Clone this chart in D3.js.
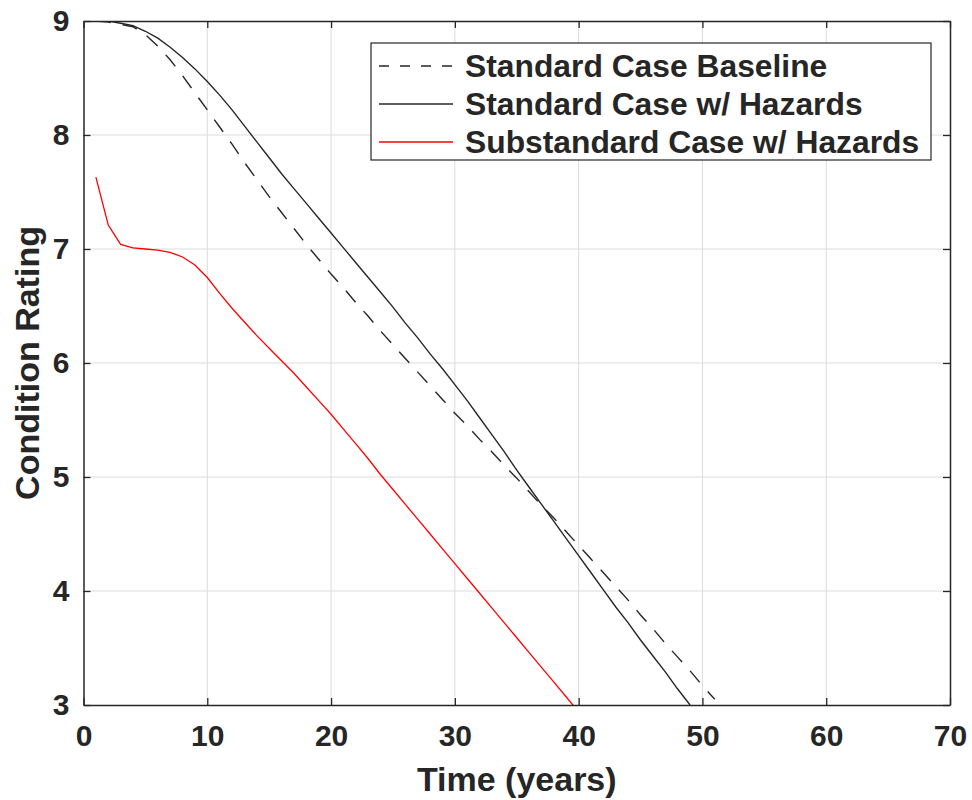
<!DOCTYPE html>
<html>
<head>
<meta charset="utf-8">
<script src="https://cdn.jsdelivr.net/npm/d3@7"></script>
<style>
  html, body { margin: 0; padding: 0; background: #fff; }
  svg { display: block; }
  text { font-family: "Liberation Sans", Arial, Helvetica, sans-serif; font-weight: bold; fill: #262626; }
</style>
</head>
<body>
<svg id="chart" width="972" height="800"></svg>
<script>
// Time axis (years) and condition-rating series
const yearsBaseline = d3.range(1, 52);
const standardBaseline = [
  9.00, 8.99, 8.97, 8.95, 8.88, 8.78, 8.66, 8.52, 8.37, 8.22,
  8.07, 7.92, 7.76, 7.61, 7.46, 7.32, 7.18, 7.04, 6.91, 6.78,
  6.66, 6.53, 6.41, 6.28, 6.16, 6.04, 5.92, 5.80, 5.68, 5.56,
  5.45, 5.33, 5.22, 5.10, 4.99, 4.87, 4.75, 4.64, 4.52, 4.40,
  4.28, 4.16, 4.04, 3.92, 3.79, 3.67, 3.54, 3.42, 3.30, 3.17, 3.05
];

const yearsHazards = d3.range(1, 50);
const standardHazards = [
  9.00, 9.00, 8.98, 8.96, 8.91, 8.85, 8.77, 8.68, 8.58, 8.47,
  8.35, 8.22, 8.08, 7.94, 7.80, 7.66, 7.53, 7.40, 7.27, 7.14,
  7.01, 6.88, 6.75, 6.62, 6.49, 6.35, 6.22, 6.08, 5.95, 5.81,
  5.67, 5.52, 5.37, 5.22, 5.06, 4.91, 4.76, 4.61, 4.46, 4.31,
  4.16, 4.01, 3.86, 3.72, 3.57, 3.43, 3.29, 3.14, 3.00
];

const yearsSubstandard = d3.range(1, 41);
const substandardHazards = [
  7.63, 7.21, 7.04, 7.01, 7.00, 6.99, 6.97, 6.93, 6.86, 6.75,
  6.61, 6.48, 6.36, 6.24, 6.13, 6.02, 5.91, 5.79, 5.67, 5.55,
  5.42, 5.29, 5.16, 5.02, 4.89, 4.76, 4.63, 4.50, 4.37, 4.24,
  4.11, 3.98, 3.85, 3.72, 3.59, 3.46, 3.33, 3.20, 3.07, 2.94
];

const xTicks = [0, 10, 20, 30, 40, 50, 60, 70];
const yTicks = [3, 4, 5, 6, 7, 8, 9];
const legendLabels = ["Standard Case Baseline", "Standard Case w/ Hazards", "Substandard Case w/ Hazards"];

const svg = d3.select("#chart");
const plot = { left: 83.5, right: 950, top: 21, bottom: 705 };

const x = d3.scaleLinear().domain([0, 70]).range([plot.left, plot.right]);
const y = d3.scaleLinear().domain([3, 9]).range([plot.bottom, plot.top]);

// grid
const grid = svg.append("g").attr("stroke", "#dcdcdc").attr("stroke-width", 1);
grid.selectAll("line.gx").data(xTicks.slice(1, -1)).join("line")
  .attr("x1", d => x(d)).attr("x2", d => x(d))
  .attr("y1", plot.top).attr("y2", plot.bottom);
grid.selectAll("line.gy").data(yTicks.slice(1, -1)).join("line")
  .attr("y1", d => y(d)).attr("y2", d => y(d))
  .attr("x1", plot.left).attr("x2", plot.right);

// clip region for the data lines
svg.append("clipPath").attr("id", "plotClip").append("rect")
  .attr("x", plot.left).attr("y", plot.top)
  .attr("width", plot.right - plot.left).attr("height", plot.bottom - plot.top);

const line = d3.line().x(d => x(d[0])).y(d => y(d[1])).curve(d3.curveLinear);
const series = [
  { xs: yearsBaseline, ys: standardBaseline, color: "#262626", dash: "15,12", width: 1.4 },
  { xs: yearsHazards, ys: standardHazards, color: "#262626", dash: null, width: 1.4 },
  { xs: yearsSubstandard, ys: substandardHazards, color: "#ff0000", dash: null, width: 1.3 }
];
const lines = svg.append("g").attr("clip-path", "url(#plotClip)");
series.forEach(s => {
  lines.append("path")
    .attr("d", line(s.xs.map((t, i) => [t, s.ys[i]])))
    .attr("fill", "none")
    .attr("stroke", s.color)
    .attr("stroke-width", s.width)
    .attr("stroke-dasharray", s.dash);
});

// axes (box with inward ticks)
const tickLen = 7;
const axisG = svg.append("g");
const fmt = d3.format("d");
const axBottom = d3.axisBottom(x).tickValues(xTicks).tickFormat(fmt).tickSizeInner(-tickLen).tickSizeOuter(0).tickPadding(20);
const axLeft = d3.axisLeft(y).tickValues(yTicks).tickFormat(fmt).tickSizeInner(-tickLen).tickSizeOuter(0).tickPadding(14);
const axTop = d3.axisTop(x).tickValues(xTicks).tickSizeInner(-tickLen).tickSizeOuter(0).tickFormat("");
const axRight = d3.axisRight(y).tickValues(yTicks).tickSizeInner(-tickLen).tickSizeOuter(0).tickFormat("");

const gB = axisG.append("g").attr("transform", `translate(0,${plot.bottom})`).call(axBottom);
const gL = axisG.append("g").attr("transform", `translate(${plot.left},0)`).call(axLeft);
const gT = axisG.append("g").attr("transform", `translate(0,${plot.top})`).call(axTop);
const gR = axisG.append("g").attr("transform", `translate(${plot.right},0)`).call(axRight);
[gB, gL, gT, gR].forEach(g => {
  g.select(".domain").attr("stroke", "#262626").attr("stroke-width", 1.5);
  g.selectAll(".tick line").attr("stroke", "#262626").attr("stroke-width", 1.3);
  g.selectAll("text").attr("font-size", 30).attr("font-family", "Liberation Sans, Arial, sans-serif")
    .attr("font-weight", "bold").attr("fill", "#262626");
});

// axis titles
svg.append("text")
  .attr("x", (plot.left + plot.right) / 2).attr("y", 791)
  .attr("text-anchor", "middle").attr("font-size", 34)
  .text("Time (years)");
svg.append("text")
  .attr("transform", `translate(39,${(plot.top + plot.bottom) / 2}) rotate(-90)`)
  .attr("text-anchor", "middle").attr("font-size", 34)
  .text("Condition Rating");

// legend
const legend = svg.append("g");
legend.append("rect")
  .attr("x", 371).attr("y", 43).attr("width", 560).attr("height", 117)
  .attr("fill", "#fff").attr("stroke", "#262626").attr("stroke-width", 1.2);
const rowY = [66, 104, 142];
series.forEach((s, i) => {
  legend.append("line")
    .attr("x1", 379).attr("x2", 453).attr("y1", rowY[i]).attr("y2", rowY[i])
    .attr("stroke", s.color).attr("stroke-width", s.width)
    .attr("stroke-dasharray", s.dash ? "10,11" : null);
  legend.append("text")
    .attr("x", 465).attr("y", rowY[i]).attr("dy", "0.36em")
    .attr("font-size", 31.8).attr("fill", "#000")
    .text(legendLabels[i]);
});
</script>
</body>
</html>
